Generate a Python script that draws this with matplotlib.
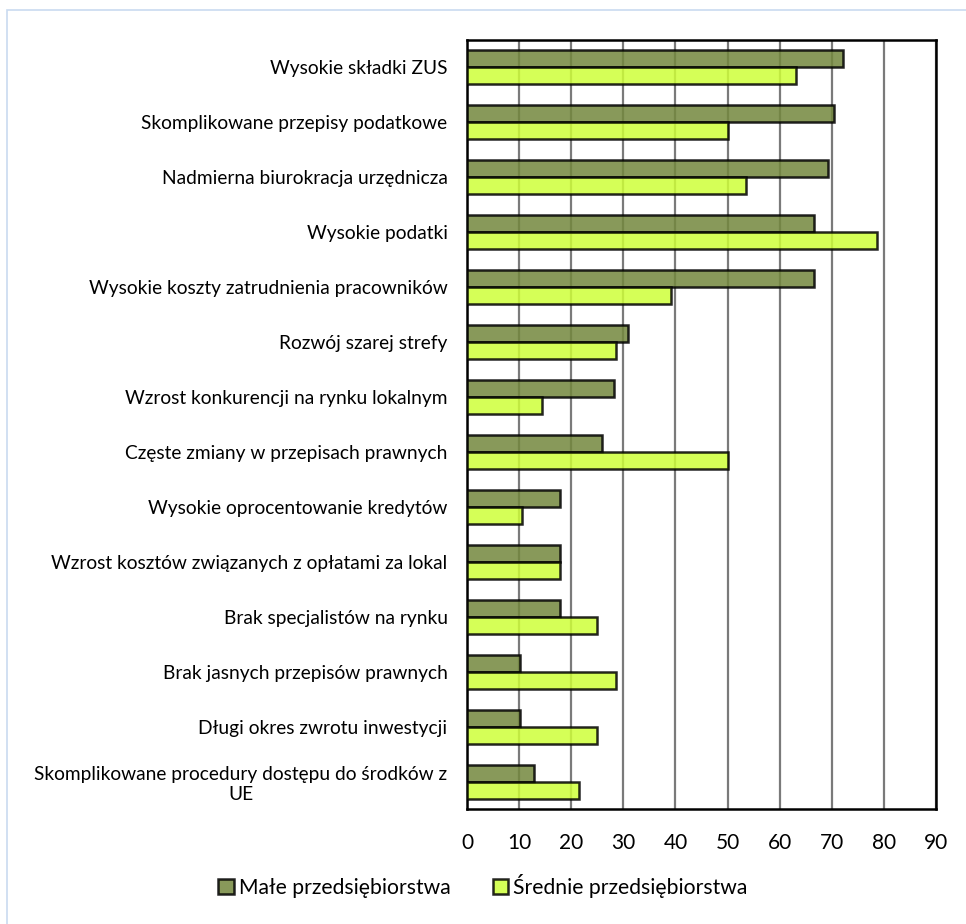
import numpy as np
import matplotlib
matplotlib.use('Agg')
import matplotlib.pyplot as plt
from matplotlib.patches import Rectangle

plt.rcParams['font.family'] = ['Lato', 'DejaVu Sans']

categories = [
    'Wysokie składki ZUS',
    'Skomplikowane przepisy podatkowe',
    'Nadmierna biurokracja urzędnicza',
    'Wysokie podatki',
    'Wysokie koszty zatrudnienia pracowników',
    'Rozwój szarej strefy',
    'Wzrost konkurencji na rynku lokalnym',
    'Częste zmiany w przepisach prawnych',
    'Wysokie oprocentowanie kredytów',
    'Wzrost kosztów związanych z opłatami za lokal',
    'Brak specjalistów na rynku',
    'Brak jasnych przepisów prawnych',
    'Długi okres zwrotu inwestycji',
    'Skomplikowane procedury dostępu do środków z\nUE',
]
male = [72.1, 70.4, 69.3, 66.6, 66.6, 30.8, 28.2, 25.9, 17.9, 17.9, 17.9, 10.2, 10.2, 12.8]
srednie = [63.1, 50.0, 53.5, 78.6, 39.2, 28.5, 14.3, 50.0, 10.6, 17.9, 25.0, 28.5, 25.0, 21.4]
series_names = ['Małe przedsiębiorstwa', 'Średnie przedsiębiorstwa']
xticks = list(range(0, 91, 10))

fig = plt.figure(figsize=(9.66, 9.24), dpi=100)
ax = fig.add_axes((467 / 966, 1 - 809 / 924, 469 / 966, 769 / 924))

# light blue chart border (right/bottom edges fall outside the image)
fig.patches.append(Rectangle((7 / 966, -0.1), 1.2, 1 - 10 / 924 + 0.1,
                             transform=fig.transFigure, fill=False,
                             edgecolor='#c9daf0', linewidth=1.2))

y = np.arange(len(categories))
h = 0.31
ax.barh(y - h / 2, male, height=h, color=(115 / 255, 135 / 255, 61 / 255),
        alpha=0.85, edgecolor='black', linewidth=1.8, label=series_names[0], zorder=3)
ax.barh(y + h / 2, srednie, height=h, color=(206 / 255, 1.0, 57 / 255),
        alpha=0.85, edgecolor='black', linewidth=1.8, label=series_names[1], zorder=3)

ax.set_xlim(0, 90)
ax.set_ylim(len(categories) - 0.5, -0.5)
ax.set_xticks(xticks)
ax.set_yticks(y)
ax.set_yticklabels(categories)
for lab in ax.get_yticklabels():
    lab.set_multialignment('center')
ax.tick_params(axis='y', length=0, pad=14, labelsize=13.8)
ax.tick_params(axis='x', length=0, pad=17, labelsize=15)
ax.xaxis.grid(True, color='#7a7a7a', linewidth=1.6, zorder=1)
ax.set_axisbelow(True)
for s in ax.spines.values():
    s.set_linewidth(1.8)
    s.set_color('black')

fig.legend(loc='center', bbox_to_anchor=(0.5, 1 - 886 / 924), ncol=2, frameon=False,
           fontsize=15.2, handlelength=0.72, handleheight=0.72, handletextpad=0.25,
           columnspacing=2.0)

fig.savefig('out.png', dpi=100)
